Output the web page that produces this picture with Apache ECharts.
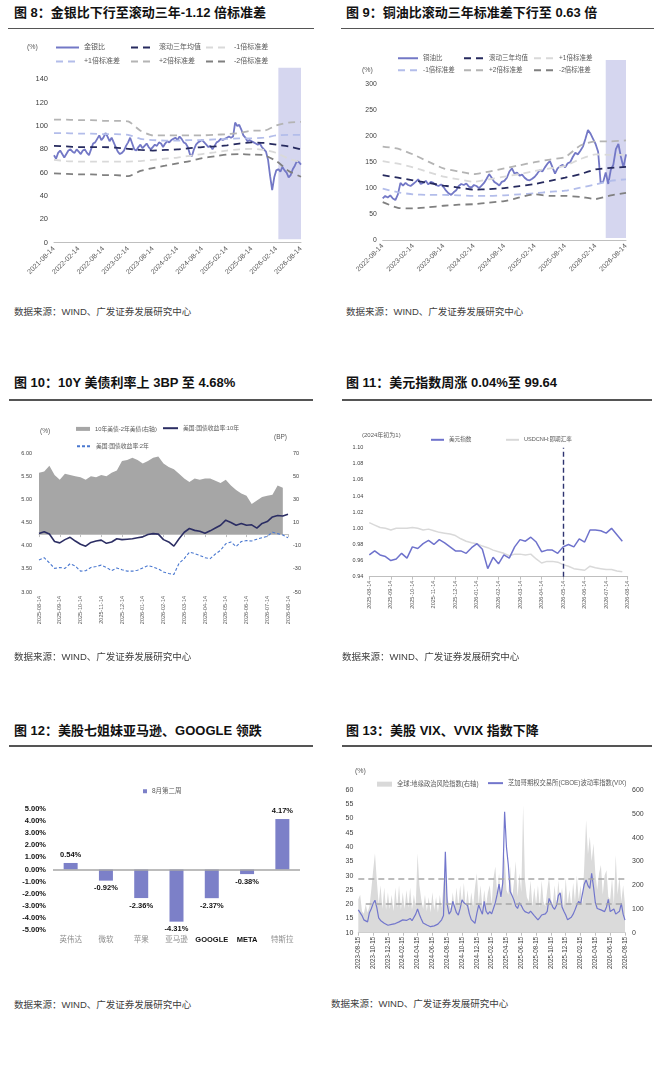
<!DOCTYPE html>
<html>
<head>
<meta charset="utf-8">
<script src="https://cdn.jsdelivr.net/npm/echarts@6/dist/echarts.min.js"></script>
<style>
  body { margin: 0; background: #fff; }
  #page { position: relative; width: 656px; height: 1068px; overflow: hidden; background: #fff; }
  .title { position: absolute; font-weight: bold; font-size: 13px; line-height: 16px; color: #111; white-space: nowrap;
           font-family: "Liberation Sans", "Noto Sans CJK SC", sans-serif; }
  .rule { position: absolute; height: 1.5px; background: #555; }
  .src { position: absolute; font-size: 9.5px; line-height: 12px; color: #404040; white-space: nowrap;
         font-family: "Liberation Sans", "Noto Sans CJK SC", sans-serif; }
  .chart { position: absolute; }
</style>
</head>
<body>
<div id="page">
  <div class="title" style="left:14px;top:5px">图 8：金银比下行至滚动三年-1.12 倍标准差</div>
  <div class="rule" style="left:8px;top:27.5px;width:306px"></div>
  <div id="c8" class="chart" style="left:0;top:30px;width:328px;height:276px"></div>
  <div class="src" style="left:14px;top:306px">数据来源：WIND、广发证券发展研究中心</div>

  <div class="title" style="left:346px;top:5px">图 9：铜油比滚动三年标准差下行至 0.63 倍</div>
  <div class="rule" style="left:341px;top:27.5px;width:313px"></div>
  <div id="c9" class="chart" style="left:328px;top:30px;width:328px;height:276px"></div>
  <div class="src" style="left:346px;top:306px">数据来源：WIND、广发证券发展研究中心</div>

  <div class="title" style="left:14px;top:375px">图 10：10Y 美债利率上 3BP 至 4.68%</div>
  <div class="rule" style="left:9px;top:399px;width:304px"></div>
  <div id="c10" class="chart" style="left:0;top:404px;width:328px;height:250px"></div>
  <div class="src" style="left:14px;top:651px">数据来源：WIND、广发证券发展研究中心</div>

  <div class="title" style="left:346px;top:375px">图 11：美元指数周涨 0.04%至 99.64</div>
  <div class="rule" style="left:342px;top:399px;width:310px"></div>
  <div id="c11" class="chart" style="left:328px;top:404px;width:328px;height:250px"></div>
  <div class="src" style="left:342px;top:651px">数据来源：WIND、广发证券发展研究中心</div>

  <div class="title" style="left:14px;top:723px">图 12：美股七姐妹亚马逊、GOOGLE 领跌</div>
  <div class="rule" style="left:9px;top:745px;width:304px"></div>
  <div id="c12" class="chart" style="left:0;top:752px;width:328px;height:225px"></div>
  <div class="src" style="left:14px;top:999px">数据来源：WIND、广发证券发展研究中心</div>

  <div class="title" style="left:346px;top:723px">图 13：美股 VIX、VVIX 指数下降</div>
  <div class="rule" style="left:342px;top:745px;width:310px"></div>
  <div id="c13" class="chart" style="left:328px;top:752px;width:328px;height:225px"></div>
  <div class="src" style="left:331px;top:998px">数据来源：WIND、广发证券发展研究中心</div>
</div>

<script>
const FONT = '"Liberation Sans","Noto Sans CJK SC",sans-serif';

// build a list of date strings; days after the first one that are smaller belong to the next month
function makeDates(startYm, endDate, days) {
  const out = [];
  const pad = n => String(n).padStart(2, '0');
  let [y, m] = startYm.split('-').map(Number);
  for (let guard = 0; guard < 200; guard++) {
    for (const d of days) {
      let yy = y, mm = d < days[0] ? m + 1 : m;
      if (mm > 12) { mm = 1; yy++; }
      const s = yy + '-' + pad(mm) + '-' + pad(d);
      out.push(s);
      if (s === endDate) return out;
    }
    m++;
    if (m > 12) { m = 1; y++; }
  }
  return out;
}

// ---------- chart 8: gold / silver ratio ----------
const dates8 = makeDates('2021-08', '2026-08-14', [14, 28]);
const goldSilver = [
  75, 72, 77, 79, 76, 73, 76, 79, 80, 78, 77, 80,
  78, 76, 79, 80, 77, 75, 80, 85, 86, 89, 92, 88,
  90, 94, 91, 87, 90, 86, 82, 78, 76, 77, 79, 83,
  86, 90, 85, 80, 79, 82, 84, 81, 83, 85, 82, 80,
  82, 84, 83, 86, 85, 82, 85, 87, 86, 88, 89, 90,
  88, 91, 89, 86, 85, 82, 76, 74, 80, 84, 86, 87,
  88, 86, 84, 82, 83, 80, 83, 86, 87, 89, 88, 89,
  90, 91, 90, 91, 103, 100, 101, 97, 92, 90, 87, 88,
  87, 86, 85, 84, 85, 82, 80, 78, 71, 57, 45, 56,
  62, 63, 61, 65, 62, 60, 56, 58, 63, 66, 70, 69, 67
];
const bandDates8 = dates8.filter((d, i) => i % 6 === 0);
const mean8 = [83, 82.5, 82, 82, 82, 81.5, 80.5, 79.5, 79, 79.5, 80, 81, 82, 82.5, 83.5, 85, 86, 85.5, 84, 82.5, 80];
const up1_8 = [94, 94, 93.5, 93.5, 93, 93, 92.5, 89, 88, 87.5, 87.5, 88, 88, 88.5, 89, 89.5, 89.5, 90, 92, 92.5, 92.5];
const dn1_8 = [71, 70, 69.5, 69.5, 69.5, 69.5, 69.5, 70, 71, 72, 73, 74.5, 76, 77.5, 79, 80, 80.5, 79.5, 77, 72, 69];
const up2_8 = [105.5, 105.5, 105, 105, 104.5, 104.5, 104, 96, 92, 92, 92, 92, 92, 92.5, 93, 94, 96, 96, 100.5, 103, 103.5];
const dn2_8 = [59.5, 59, 58.5, 58.5, 58, 58, 57, 61.5, 64, 66, 68, 70, 72.5, 74, 75.5, 76, 75.5, 75, 70, 61.5, 56.5];
const shade8 = ['2026-02-28', '2026-08-14'];
const shade8Y = [3, 150];

// ---------- chart 9: copper / oil ratio ----------
const dates9 = makeDates('2022-08', '2026-08-14', [14, 28]);
const copperOil = [
  80, 85, 82, 86, 80, 77, 88, 110, 105, 110, 106, 104,
  108, 112, 117, 108, 110, 114, 107, 112, 110, 106, 104, 107,
  102, 95, 90, 87, 92, 96, 104, 108, 106, 109, 103, 101,
  106, 104, 100, 105, 110, 118, 127, 120, 112, 109, 105, 112,
  114, 120, 132, 138, 128, 130, 124, 126, 120, 116, 115, 118,
  122, 128, 135, 132, 140, 147, 152, 140, 128, 138, 142, 145,
  140, 148, 150, 160, 168, 165, 172, 180, 195, 212, 205, 195,
  185, 170, 110, 112, 130, 108, 135, 145, 175, 185, 160, 140, 165
];
const bandDates9 = dates9.filter((d, i) => i % 6 === 0);
const mean9 = [125, 120, 115, 110, 105, 101, 97, 98, 100, 104, 108, 114, 120, 127, 136, 139, 141];
const up1_9 = [152, 147, 140, 131, 122, 117, 112, 117, 122, 127, 133, 138, 143, 156, 165, 164, 164];
const dn1_9 = [99, 92, 88, 87, 87, 86, 85, 85, 86, 88, 90, 93, 95, 101, 107, 114, 117];
const up2_9 = [180, 176, 165, 151, 138, 132, 127, 132, 138, 144, 150, 155, 160, 182, 190, 190, 192];
const dn2_9 = [73, 62, 61, 63, 66, 68, 69, 72, 75, 82, 88, 85, 85, 83, 79, 86, 91];
const shade9 = ['2026-04-14', '2026-08-14'];
const shade9Y = [4, 347];

// ---------- chart 10: US treasuries ----------
const dates10 = makeDates('2025-08', '2026-08-14', [14, 21, 28, 7]);
const us10y = [4.26, 4.30, 4.25, 4.09, 4.06, 4.13, 4.18, 4.10, 4.03, 3.99, 4.07, 4.10, 4.12, 4.05, 4.08, 4.15,
  4.13, 4.14, 4.15, 4.17, 4.19, 4.24, 4.26, 4.25, 4.13, 4.08, 3.99, 4.15, 4.29, 4.37, 4.33, 4.31,
  4.27, 4.32, 4.38, 4.44, 4.55, 4.50, 4.44, 4.48, 4.44, 4.45, 4.38, 4.48, 4.52, 4.62, 4.65, 4.64, 4.68];
const us2y = [3.69, 3.74, 3.63, 3.51, 3.53, 3.51, 3.61, 3.56, 3.45, 3.46, 3.53, 3.55, 3.58, 3.53, 3.46, 3.52,
  3.48, 3.45, 3.45, 3.47, 3.52, 3.57, 3.54, 3.50, 3.43, 3.40, 3.38, 3.62, 3.72, 3.86, 3.83, 3.79,
  3.74, 3.72, 3.82, 3.90, 4.04, 4.08, 3.98, 4.09, 4.11, 4.10, 4.14, 4.17, 4.20, 4.29, 4.26, 4.23, 4.17];
const spread10 = [53, 54, 59, 51, 47, 52, 51, 50, 49, 47, 50, 49, 51, 50, 53, 55,
  63, 64, 66, 64, 61, 63, 66, 67, 61, 58, 56, 52, 48, 45, 48, 47,
  48, 48, 46, 44, 47, 42, 38, 35, 33, 26, 29, 32, 33, 34, 42, 40, null];

// ---------- chart 11: dollar index ----------
const dates11 = dates10;
const dxy = [0.967, 0.972, 0.967, 0.965, 0.960, 0.962, 0.969, 0.963, 0.977, 0.975, 0.981, 0.985, 0.980, 0.986, 0.982, 0.977,
  0.972, 0.972, 0.969, 0.976, 0.981, 0.974, 0.950, 0.964, 0.956, 0.967, 0.963, 0.977, 0.986, 0.984, 0.989, 0.983,
  0.971, 0.973, 0.973, 0.969, 0.977, 0.980, 0.977, 0.987, 0.983, 0.998, 0.998, 0.997, 0.994, 1.000, 0.992, 0.984, null];
const usdcnh = [1.007, 1.004, 1.001, 1.000, 0.998, 1.000, 1.000, 1.000, 1.001, 1.000, 0.998, 0.999, 0.997, 0.995, 0.994, 0.993,
  0.991, 0.987, 0.984, 0.982, 0.981, 0.978, 0.976, 0.973, 0.971, 0.969, 0.966, 0.968, 0.968, 0.967, 0.968, 0.962,
  0.957, 0.959, 0.959, 0.958, 0.955, 0.953, 0.950, 0.949, 0.948, 0.953, 0.951, 0.950, 0.949, 0.949, 0.947, 0.946, null];
const marker11 = '2026-05-14';

// ---------- chart 12: magnificent seven ----------
const stocks = ['英伟达', '微软', '苹果', '亚马逊', 'GOOGLE', 'META', '特斯拉'];
const weekChange = [0.54, -0.92, -2.36, -4.31, -2.37, -0.38, 4.17];

// ---------- chart 13: VIX and geopolitical risk ----------
const dates13 = makeDates('2023-08', '2026-08-15', [15, 22, 1, 8]);
const vix = [
  18, 17.3, 16, 14.5, 14.6, 13.8, 17, 18.4, 20.2, 21.4,
  18.8, 15.2, 14.3, 13.8, 13.3, 12.8, 12.6, 12.3, 12.9, 13.3,
  13.2, 13.4, 13.8, 14.0, 14.5, 14.2, 14.3, 14.6, 15.0, 14.2,
  14.5, 16.5, 18.3, 16.4, 14.8, 13.4, 13.0, 12.7, 12.4, 12.1,
  12.2, 12.4, 12.6, 13.0, 13.3, 14.5, 16.0, 38.4, 20, 16.5,
  17.5, 21, 19, 17, 16.2, 18.5, 21.5, 20.5, 20, 19.5,
  16.5, 14.6, 14, 13.3, 16.8, 19.7, 18, 16.5, 21, 17.5,
  16.5, 17.4, 16.6, 16, 20.5, 23.5, 27, 22.5, 27.5, 52.4,
  40, 33.7, 24.4, 23, 21.5, 19.3, 18.5, 20.5, 19.5, 18.2,
  17.4, 17.1, 16.8, 17.6, 17.5, 16, 15.3, 14.5, 15.3, 16.2,
  16.4, 16.6, 17.5, 22, 21.5, 19, 18.2, 19.5, 23, 24,
  19, 17.5, 16.2, 14.5, 14.3, 15.4, 16.5, 18, 19.7, 21,
  20, 20.5, 27, 28.5, 26.5, 25.5, 30.8, 26, 20.5, 18.5,
  18, 18, 17.8, 17.4, 19, 21.7, 17.4, 18, 18.3, 16.5,
  16, 17.5, 20.3, 16.5, 14.4
];
const gpr = [
  140, 160, 90, 80, 120, 85,
  110, 180, 260, 334, 220,
  120, 200, 100, 190, 95, 170, 100,
  160, 90, 190, 105, 200, 95, 170,
  100, 180, 105, 190, 95, 160, 110,
  334, 200, 140, 100,
  160, 90, 150, 85, 170, 95, 150, 85, 160, 105,
  200, 290, 150, 120, 100,
  170, 105, 190, 110, 200, 120, 210, 105, 180, 100, 170, 110,
  190, 250, 120, 200, 105, 180, 115, 170,
  200, 120, 230, 278, 160, 250, 140, 240,
  330, 180, 160, 280, 140, 210,
  300, 150, 250, 170,
  537, 220, 150,
  130, 220, 110, 190, 120, 200, 105, 220, 130, 110, 180,
  235, 140, 120, 200,
  110, 220, 130, 190, 105, 230, 120, 180, 110, 210, 130, 240, 140, 200, 120,
  280, 474, 330, 404, 300, 375, 250,
  180, 250, 285, 160, 240, 263, 150,
  140, 230, 120, 327, 160, 235, 130, 200, 120
];
const vixBands = [29.0, 20.3];

// ---------- helpers ----------
function txt(size, color, extra) {
  return Object.assign({ fontSize: size, color: color, fontFamily: FONT }, extra || {});
}
// one legend entry; line entries hide the default circle so only the (dashed) stroke shows
function legendItem(name, left, top, w, size, icon, h) {
  const item = {
    data: [icon ? { name: name, icon: icon } : name],
    left: left, top: top, padding: 0, itemWidth: w, itemHeight: h || 8,
    selectedMode: false, textStyle: txt(size, '#595959')
  };
  if (!icon) item.itemStyle = { opacity: 0 };
  return item;
}
function label(text, left, top, size) {
  return { type: 'text', left: left, top: top, style: { text: text, fontSize: size, fill: '#595959', fontFamily: FONT } };
}
function band(name, dates, vals, color) {
  return {
    name: name, type: 'line', symbol: 'none', smooth: 0.2, z: 3,
    data: dates.map((d, i) => [d, vals[i]]),
    lineStyle: { color: color, width: 1.8, type: [7, 5] }, itemStyle: { color: color }
  };
}
function shadeSeries(range, yRange) {
  return {
    type: 'line', data: [], z: 1,
    markArea: { silent: true, itemStyle: { color: '#d5d6ef' },
      data: [[{ xAxis: range[0], yAxis: yRange[0] }, { xAxis: range[1], yAxis: yRange[1] }]] }
  };
}
function render(id, option) {
  const chart = echarts.init(document.getElementById(id));
  option.animation = false;
  chart.setOption(option);
}
const gridLine = { lineStyle: { color: '#bfbfbf', width: 1 } };

// ---------- chart 8 ----------
render('c8', {
  grid: { left: 54, top: 37.7, width: 247, height: 175 },
  legend: [
    legendItem('金银比', 55, 14, 23, 7),
    legendItem('滚动三年均值', 130, 14, 23, 7),
    legendItem('-1倍标准差', 205, 14, 23, 7),
    legendItem('+1倍标准差', 55, 28, 23, 7),
    legendItem('+2倍标准差', 130, 28, 23, 7),
    legendItem('-2倍标准差', 205, 28, 23, 7)
  ],
  graphic: [label('(%)', 27, 14, 7)],
  xAxis: {
    type: 'category', data: dates8, boundaryGap: false,
    axisLine: gridLine, axisTick: { show: false },
    axisLabel: Object.assign({ interval: 11, rotate: 45, margin: 5 }, txt(7, '#595959'))
  },
  yAxis: {
    type: 'value', min: 0, max: 150, interval: 20, splitLine: { show: false },
    axisLabel: Object.assign({ showMaxLabel: false, margin: 6 }, txt(7.5, '#404040'))
  },
  series: [
    shadeSeries(shade8, shade8Y),
    { name: '金银比', type: 'line', symbol: 'none', data: goldSilver, z: 2,
      lineStyle: { color: '#7378c6', width: 1.8 }, itemStyle: { color: '#7378c6' } },
    band('滚动三年均值', bandDates8, mean8, '#262a5e'),
    band('+1倍标准差', bandDates8, up1_8, '#b3bdea'),
    band('-1倍标准差', bandDates8, dn1_8, '#d9d9d9'),
    band('+2倍标准差', bandDates8, up2_8, '#b4b4b4'),
    band('-2倍标准差', bandDates8, dn2_8, '#808080')
  ]
});

// ---------- chart 9 ----------
render('c9', {
  grid: { left: 54.7, top: 28.4, width: 243.3, height: 181.6 },
  legend: [
    legendItem('铜油比', 69, 25, 20, 6.5),
    legendItem('滚动三年均值', 135, 25, 20, 6.5),
    legendItem('+1倍标准差', 205, 25, 20, 6.5),
    legendItem('-1倍标准差', 69, 37, 20, 6.5),
    legendItem('+2倍标准差', 135, 37, 20, 6.5),
    legendItem('-2倍标准差', 205, 37, 20, 6.5)
  ],
  graphic: [label('(%)', 34, 37, 7)],
  xAxis: {
    type: 'category', data: dates9, boundaryGap: false,
    axisLine: gridLine, axisTick: { show: false },
    axisLabel: Object.assign({ interval: 11, rotate: 45, margin: 5 }, txt(7, '#595959'))
  },
  yAxis: {
    type: 'value', min: 0, max: 350, interval: 50, splitLine: { show: false },
    axisLabel: Object.assign({ showMaxLabel: false, margin: 6 }, txt(6.8, '#404040'))
  },
  series: [
    shadeSeries(shade9, shade9Y),
    { name: '铜油比', type: 'line', symbol: 'none', data: copperOil, z: 2,
      lineStyle: { color: '#7378c6', width: 1.8 }, itemStyle: { color: '#7378c6' } },
    band('滚动三年均值', bandDates9, mean9, '#262a5e'),
    band('+1倍标准差', bandDates9, up1_9, '#d9d9d9'),
    band('-1倍标准差', bandDates9, dn1_9, '#b3bdea'),
    band('+2倍标准差', bandDates9, up2_9, '#b4b4b4'),
    band('-2倍标准差', bandDates9, dn2_9, '#808080')
  ]
});

// ---------- chart 10 ----------
render('c10', {
  grid: { left: 39, top: 49, width: 249, height: 139 },
  legend: [
    legendItem('10年美债-2年美债(右轴)', 76, 22, 14, 5.8, 'rect', 4),
    legendItem('美国:国债收益率:10年', 162, 21, 15, 5.8),
    legendItem('美国:国债收益率:2年', 76, 39, 14, 5.8)
  ],
  graphic: [label('(%)', 40, 24, 6.5), label('(BP)', 274, 30, 6.5)],
  xAxis: {
    type: 'category', data: dates10, boundaryGap: false,
    axisLine: gridLine, axisTick: { interval: 3, length: 3, lineStyle: { color: '#bfbfbf' } },
    axisLabel: Object.assign({ interval: 3, rotate: 90, margin: 4 }, txt(5.5, '#595959'))
  },
  yAxis: [
    { type: 'value', min: 3, max: 6, interval: 0.5, position: 'left', splitLine: { show: false },
      axisLabel: Object.assign({ margin: 7, formatter: v => v.toFixed(2) }, txt(5.5, '#404040')) },
    { type: 'value', min: -50, max: 70, interval: 20, position: 'right', splitLine: { show: false },
      axisLabel: Object.assign({ margin: 5 }, txt(5.5, '#404040')) }
  ],
  series: [
    { name: '10年美债-2年美债(右轴)', type: 'line', yAxisIndex: 1, symbol: 'none', data: spread10, z: 1,
      lineStyle: { width: 0 }, itemStyle: { color: '#a6a6a6' }, areaStyle: { color: '#a6a6a6', opacity: 1 } },
    { name: '美国:国债收益率:10年', type: 'line', symbol: 'none', data: us10y, z: 3,
      lineStyle: { color: '#2b2d63', width: 1.6 }, itemStyle: { color: '#2b2d63' } },
    { name: '美国:国债收益率:2年', type: 'line', symbol: 'none', data: us2y, z: 3,
      lineStyle: { color: '#4a78d0', width: 1.1, type: [3, 2] }, itemStyle: { color: '#4a78d0' } }
  ]
});

// ---------- chart 11 ----------
render('c11', {
  grid: { left: 41.3, top: 43.7, width: 258.4, height: 129 },
  legend: [
    legendItem('美元指数', 102, 33, 13, 5.6, null, 6),
    legendItem('USDCNH:即期汇率', 177, 33, 13, 5.6, null, 6)
  ],
  graphic: [label('(2024年初为1)', 34, 28, 6)],
  xAxis: {
    type: 'category', data: dates11, boundaryGap: false,
    axisLine: gridLine, axisTick: { interval: 3, length: 3, lineStyle: { color: '#bfbfbf' } },
    axisLabel: Object.assign({ interval: 3, rotate: 90, margin: 4 }, txt(5.5, '#595959'))
  },
  yAxis: {
    type: 'value', min: 0.94, max: 1.10, interval: 0.02, splitLine: { show: false },
    axisLabel: Object.assign({ margin: 6, formatter: v => v.toFixed(2) }, txt(5.5, '#404040'))
  },
  series: [
    { name: 'USDCNH:即期汇率', type: 'line', symbol: 'none', data: usdcnh, z: 2,
      lineStyle: { color: '#d9d9d9', width: 1.5 }, itemStyle: { color: '#d9d9d9' } },
    { name: '美元指数', type: 'line', symbol: 'none', data: dxy, z: 3,
      lineStyle: { color: '#6e72cc', width: 1.5 }, itemStyle: { color: '#6e72cc' },
      markLine: { silent: true, symbol: 'none', label: { show: false },
        lineStyle: { color: '#2e3470', width: 1.4, type: [5, 3] }, data: [{ xAxis: marker11 }] } }
  ]
});

// ---------- chart 12 ----------
render('c12', {
  grid: { left: 53, top: 57, width: 247, height: 121 },
  legend: [legendItem('8月第二周', 143, 36, 4, 6.5, 'rect', 4)],
  xAxis: {
    type: 'category',
    data: stocks.map(s => /[A-Z]/.test(s)
      ? { value: s, textStyle: { color: '#111', fontWeight: 'bold' } }
      : { value: s, textStyle: { color: '#8c8c8c' } }),
    axisLine: { show: false, onZero: false }, axisTick: { show: false },
    axisLabel: Object.assign({ interval: 0, margin: 6 }, txt(7.5, '#8c8c8c'))
  },
  yAxis: {
    type: 'value', min: -5, max: 5, interval: 1, splitLine: { show: false },
    axisLabel: Object.assign({ margin: 7, formatter: v => v.toFixed(2) + '%' }, txt(7.5, '#111', { fontWeight: 'bold' }))
  },
  series: [{
    name: '8月第二周', type: 'bar', barWidth: 14,
    itemStyle: { color: '#7c80c8' },
    data: weekChange.map(v => ({ value: v, label: { position: v >= 0 ? 'top' : 'bottom' } })),
    label: Object.assign({ show: true, distance: 4, formatter: p => p.value.toFixed(2) + '%' },
      txt(7.5, '#111', { fontWeight: 'bold' })),
    markLine: { silent: true, symbol: 'none', label: { show: false },
      lineStyle: { color: '#a6a6a6', width: 1.5, type: 'solid' }, data: [{ yAxis: 0 }] }
  }]
});

// ---------- chart 13 ----------
render('c13', {
  grid: { left: 30.3, top: 38, width: 266.7, height: 142.7 },
  legend: [
    legendItem('全球:地缘政治风险指数(右轴)', 49, 29, 15, 6.3, 'rect', 5),
    legendItem('芝加哥期权交易所(CBOE)波动率指数(VIX)', 159, 28, 15, 6.3, null, 6)
  ],
  graphic: [label('(%)', 27, 16, 7)],
  xAxis: {
    type: 'category', data: dates13, boundaryGap: false,
    axisLine: gridLine, axisTick: { interval: 7, length: 3, lineStyle: { color: '#bfbfbf' } },
    axisLabel: Object.assign({ interval: 7, rotate: 90, margin: 4 }, txt(6.3, '#404040'))
  },
  yAxis: [
    { type: 'value', min: 10, max: 60, interval: 5, position: 'left', splitLine: { show: false },
      axisLabel: Object.assign({ margin: 5 }, txt(7, '#404040')) },
    { type: 'value', min: 0, max: 600, interval: 100, position: 'right', splitLine: { show: false },
      axisLabel: Object.assign({ margin: 7 }, txt(7, '#404040')) }
  ],
  series: [
    { name: '全球:地缘政治风险指数(右轴)', type: 'line', yAxisIndex: 1, symbol: 'none', data: gpr, z: 1,
      lineStyle: { width: 0 }, itemStyle: { color: '#d9d9d9' }, areaStyle: { color: '#dadada', opacity: 1 } },
    { name: '芝加哥期权交易所(CBOE)波动率指数(VIX)', type: 'line', symbol: 'none', data: vix, z: 3,
      lineStyle: { color: '#7276cc', width: 1.2 }, itemStyle: { color: '#7276cc' },
      markLine: { silent: true, symbol: 'none', label: { show: false },
        lineStyle: { color: '#a6a6a6', width: 1.5, type: [6, 4] },
        data: [
          [{ xAxis: dates13[0], yAxis: vixBands[0] }, { xAxis: dates13[dates13.length - 1], yAxis: vixBands[0] }],
          [{ xAxis: dates13[4], yAxis: vixBands[1] }, { xAxis: dates13[dates13.length - 1], yAxis: vixBands[1] }]
        ] } }
  ]
});
</script>
</body>
</html>
